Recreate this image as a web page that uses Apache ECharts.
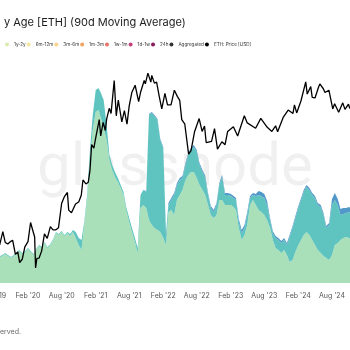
<!DOCTYPE html>
<html><head><meta charset="utf-8">
<script src="https://cdn.jsdelivr.net/npm/echarts@6/dist/echarts.min.js"></script>
<style>html,body{margin:0;padding:0;background:#fff}#c{width:350px;height:350px}</style>
</head><body><div id="c"></div>
<script>
// ---- data ----
const titleText = "y Age [ETH] (90d Moving Average)";
const footerText = "erved.";
const tickLabels = ["2019-08-01","2020-02-01","2020-08-01","2021-02-01","2021-08-01","2022-02-01","2022-08-01","2023-02-01","2023-08-01","2024-02-01","2024-08-01"];
const legendNames = ["1y-2y","6m-12m","3m-6m","1m-3m","1w-1m","1d-1w","24h","Aggregated","ETH: Price [USD]"];
const legendColors = ["#dcedb0","#f5e6a0","#f7d48e","#f2a461","#e4736b","#c4417a","#8a1a5b","#333333","#000000"];

// semi-monthly sample dates for the age bands (1st and 16th of each month, Jul 2019 - Nov 2024)
const areaDates = [];
for (let y = 2019; y <= 2024; y++) {
  for (let m = 1; m <= 12; m++) {
    if (y === 2019 && m < 7) continue;
    if (y === 2024 && m > 11) continue;
    const mm = String(m).padStart(2, "0");
    areaDates.push(y + "-" + mm + "-01", y + "-" + mm + "-16");
  }
}
// spent volume (k ETH, 90d MA) per band
const bandGreen = [
135,130,140,135,130,135,145,135,125,135,
150,160,145,155,170,155,140,165,185,175,
200,175,190,215,250,240,255,235,250,235,
255,225,190,165,290,415,615,765,855,865,
825,775,715,615,565,530,505,475,440,365,
305,255,205,150,375,390,375,315,290,275,
265,255,225,190,355,365,340,415,440,465,
515,540,555,555,525,490,465,440,390,340,
325,340,415,415,390,390,390,380,365,275,
215,240,290,390,415,390,365,355,340,315,
275,215,175,165,150,165,140,105,115,155,
190,215,240,255,240,215,190,165,150,135,
125,115,140,190,200,215,225,230,225,215];
const bandTeal = [
5,5,5,5,5,5,5,5,5,5,
5,5,5,5,5,5,5,5,5,5,
5,5,5,5,5,5,5,5,5,10,
10,30,35,50,15,20,50,75,110,110,
125,140,75,25,25,25,20,15,15,15,
20,20,20,25,65,75,80,525,560,560,
550,460,450,50,35,50,100,75,75,60,
75,100,110,125,130,100,90,85,50,35,
30,50,75,115,50,50,45,45,50,30,
35,35,50,35,25,45,75,80,85,75,
40,35,50,50,50,50,50,125,160,170,
185,200,215,225,225,225,235,225,230,205,
150,175,250,225,190,125,120,120,130,130];
const bandBlue = [
0,0,0,0,0,0,0,0,0,0,
0,0,0,0,0,0,0,0,0,0,
0,0,0,0,0,0,0,0,0,0,
0,0,0,0,0,0,0,0,0,0,
0,0,0,0,0,0,0,0,0,0,
0,0,0,0,0,0,5,5,5,5,
5,5,5,10,10,10,10,10,10,10,
10,10,10,10,10,10,10,10,10,10,
10,10,10,10,10,10,10,10,10,15,
15,15,15,10,10,10,20,20,20,20,
10,10,10,10,10,10,10,10,10,10,
10,10,10,10,10,10,10,10,10,10,
10,10,30,35,30,30,30,25,25,25];

const priceDates = [
"2019-07-01","2019-07-15","2019-08-01","2019-08-15","2019-09-01","2019-09-18","2019-10-01","2019-10-15","2019-10-27","2019-11-10",
"2019-11-25","2019-12-08","2019-12-18","2020-01-01","2020-01-15","2020-02-01","2020-02-15","2020-02-27","2020-03-08","2020-03-13",
"2020-03-20","2020-04-01","2020-04-15","2020-04-30","2020-05-15","2020-06-01","2020-06-15","2020-07-01","2020-07-15","2020-08-01",
"2020-08-15","2020-09-01","2020-09-08","2020-09-23","2020-10-15","2020-11-01","2020-11-15","2020-11-24","2020-12-10","2020-12-23",
"2021-01-01","2021-01-10","2021-01-22","2021-02-01","2021-02-20","2021-02-28","2021-03-13","2021-03-25","2021-04-01","2021-04-15",
"2021-04-25","2021-05-12","2021-05-23","2021-06-03","2021-06-22","2021-07-06","2021-07-20","2021-08-01","2021-08-15","2021-09-02",
"2021-09-21","2021-10-01","2021-10-21","2021-10-27","2021-11-10","2021-11-26","2021-12-01","2021-12-15","2021-12-27","2022-01-10",
"2022-01-24","2022-02-10","2022-02-24","2022-03-15","2022-04-02","2022-04-18","2022-05-01","2022-05-12","2022-05-28","2022-06-18",
"2022-07-01","2022-07-20","2022-08-14","2022-08-30","2022-09-12","2022-09-21","2022-10-20","2022-11-05","2022-11-21","2022-12-15",
"2023-01-01","2023-01-15","2023-02-15","2023-03-10","2023-04-15","2023-05-01","2023-06-15","2023-07-13","2023-08-17","2023-09-11",
"2023-10-01","2023-10-12","2023-11-12","2023-12-08","2024-01-03","2024-01-11","2024-01-23","2024-02-15","2024-03-12","2024-03-20",
"2024-04-08","2024-04-16","2024-05-01","2024-05-20","2024-05-27","2024-06-15","2024-06-24","2024-07-15","2024-08-05","2024-08-15",
"2024-09-06","2024-09-28","2024-10-10","2024-10-29","2024-11-05"];
const priceValues = [
290,228,218,187,172,222,180,175,182,188,
143,150,122,130,165,183,265,227,200,110,
132,133,153,213,195,245,230,230,240,385,
435,475,337,320,380,395,450,605,560,580,
730,1200,1120,1370,1950,1420,1850,1580,1970,2430,
2200,4170,2100,2850,1870,2320,1790,2550,3300,3800,
2770,3300,4170,3900,4810,4040,4600,3960,4040,3080,
2400,3240,2600,2600,3450,3060,2830,1950,1800,1000,
1070,1540,1990,1550,1720,1250,1280,1640,1100,1270,
1200,1550,1700,1420,2100,1830,1650,2000,1680,1550,
1730,1540,2050,2350,2200,2600,2220,2800,4050,3200,
3700,3000,2970,3650,3900,3550,3300,3450,2400,2650,
2250,2700,2380,2630,2420];

// ---- chart ----
const ts = d => Date.parse(d + "T00:00:00Z");
const zip = (xs, ys) => xs.map((x, i) => [x, ys[i]]);
const monthNames = ["Jan","Feb","Mar","Apr","May","Jun","Jul","Aug","Sep","Oct","Nov","Dec"];
const chart = echarts.init(document.getElementById("c"), null, {renderer: "canvas"});

const emptySeries = legendNames.slice(0, 8).map((n, i) => ({
  name: n, type: "line", data: [], yAxisIndex: 0, itemStyle: {color: legendColors[i]}, lineStyle: {color: legendColors[i]}
}));

const areaSeries = (name, vals, color) => ({
  name: name, type: "line", stack: "age", data: zip(areaDates, vals), xAxisIndex: 0, yAxisIndex: 0,
  symbol: "none", lineStyle: {width: 0}, itemStyle: {color: color},
  areaStyle: {color: color, opacity: 1}, z: 2
});

chart.setOption({
  animation: false,
  backgroundColor: "#ffffff",
  textStyle: {fontFamily: "Inter, Roboto, sans-serif"},
  title: {
    text: titleText, left: -1, top: 12,
    textStyle: {fontSize: 11, fontWeight: "normal", color: "#1c1c1c", fontFamily: "Inter, Roboto, sans-serif"}
  },
  legend: {
    data: legendNames, left: 0, top: 37, icon: "circle", itemWidth: 4, itemHeight: 4, itemGap: 1,
    textStyle: {fontSize: 4.6, color: "#333"}
  },
  graphic: [
    {type: "text", left: 0, top: 328, style: {text: footerText, fontSize: 7, fill: "#666", fontFamily: "Inter, Roboto, sans-serif"}},
    {type: "text", x: 175, y: 170, z: 0, style: {text: "glassnode", fontSize: 60, fill: "rgba(0,0,0,0.06)", fontFamily: "Roboto, sans-serif", align: "center", verticalAlign: "middle"}}
  ],
  grid: {left: -11.8, right: -4.6, top: 60, bottom: 67, containLabel: false, outerBoundsMode: "none"},
  xAxis: [
    {type: "time", min: "2019-07-01", max: "2024-12-01", show: false},
    {type: "value", position: "bottom", min: ts("2019-07-01"), max: ts("2024-12-01"),
     axisLine: {show: false}, axisTick: {show: false}, splitLine: {show: false},
     axisLabel: {
       customValues: tickLabels.map(ts),
       formatter: v => { const d = new Date(v); return monthNames[d.getUTCMonth()] + " '" + String(d.getUTCFullYear()).slice(2); },
       fontSize: 7, color: "#555", margin: 9
     }}
  ],
  yAxis: [
    {type: "value", min: 0, max: 1115, show: false, splitLine: {show: false}},
    {type: "log", min: 82, max: 6200, show: false, splitLine: {show: false}}
  ],
  series: [
    areaSeries("2y-3y", bandGreen, "#a9e0ba"),
    areaSeries("3y-5y", bandTeal, "#5fc4bf"),
    areaSeries("5y-7y", bandBlue, "#4f98c8"),
    ...emptySeries,
    {name: legendNames[8], type: "line", xAxisIndex: 0, yAxisIndex: 1, data: zip(priceDates, priceValues),
     symbol: "none", lineStyle: {color: "#000", width: 1.3}, itemStyle: {color: "#000"}, z: 5}
  ]
});
</script></body></html>
